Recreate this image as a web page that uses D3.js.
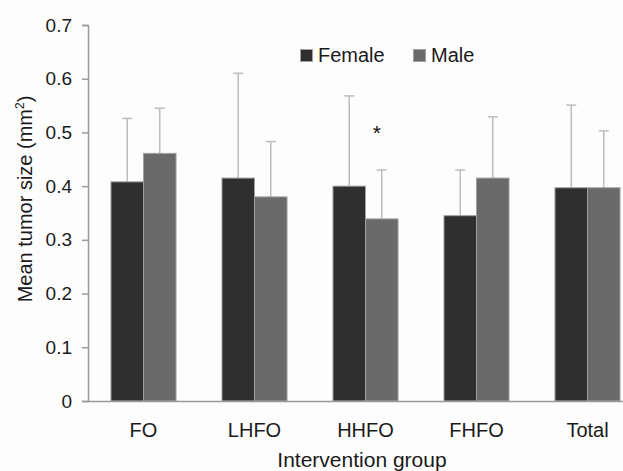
<!DOCTYPE html>
<html>
<head>
<meta charset="utf-8">
<script src="https://cdn.jsdelivr.net/npm/d3@7"></script>
<style>
    body { margin: 0; background: #fff; }
    svg { display: block; font-family: "Liberation Sans", Arial, sans-serif; }
</style>
</head>
<body>
<div id="chart"></div>
<script>
// data
const groups = ["FO", "LHFO", "HHFO", "FHFO", "Total"];
const series = ["Female", "Male"];
const femaleMean = [0.408, 0.415, 0.400, 0.345, 0.397];
const femaleUpper = [0.526, 0.610, 0.568, 0.430, 0.551];
const maleMean = [0.461, 0.380, 0.339, 0.415, 0.397];
const maleUpper = [0.545, 0.483, 0.430, 0.529, 0.503];
const yTicks = [0, 0.1, 0.2, 0.3, 0.4, 0.5, 0.6, 0.7];
const starGroup = "HHFO";

const colors = {Female: "#2f2f2f", Male: "#6a6a6a"};

let data = [];
groups.forEach((g, i) => {
    data.push({group: g, sex: "Female", mean: femaleMean[i], upper: femaleUpper[i]});
    data.push({group: g, sex: "Male", mean: maleMean[i], upper: maleUpper[i]});
});

const width = 623, height = 471;
const svg = d3.select("#chart").append("svg")
    .attr("width", width)
    .attr("height", height);

svg.append("rect").attr("width", width).attr("height", height).attr("fill", "#fdfdfd");

// axis x position and plot range (the right part is cut off in the figure)
const plot = {left: 88, right: 643, top: 25, bottom: 401};

let x0 = d3.scaleBand()
    .domain(groups)
    .range([plot.left, plot.right])
    .paddingInner(0.414)
    .paddingOuter(0.207);

let x1 = d3.scaleBand()
    .domain(series)
    .range([0, x0.bandwidth()]);

let y = d3.scaleLinear()
    .domain([0, 0.7])
    .range([plot.bottom, plot.top]);

// y axis
let yAxis = d3.axisLeft(y)
    .tickValues(yTicks)
    .tickFormat(d => d === 0 ? "0" : d3.format(".1f")(d))
    .tickSize(6)
    .tickPadding(10);

let yAxisGroup = svg.append("g")
    .attr("transform", `translate(${plot.left},0)`)
    .call(yAxis);
yAxisGroup.select(".domain").attr("stroke", "#9a9a9a").attr("stroke-width", 1.5);
yAxisGroup.selectAll(".tick line").attr("stroke", "#9a9a9a").attr("stroke-width", 1.5);
yAxisGroup.selectAll(".tick text")
    .attr("font-size", 19)
    .attr("fill", "#1a1a1a")
    .attr("font-family", "Liberation Sans, Arial, sans-serif");

// error bars (upward only), drawn behind bars
let errs = svg.append("g").attr("class", "errors");
data.forEach(d => {
    let cx = x0(d.group) + x1(d.sex) + x1.bandwidth() / 2;
    errs.append("line")
        .attr("x1", cx).attr("x2", cx)
        .attr("y1", y(d.mean)).attr("y2", y(d.upper))
        .attr("stroke", "#bdbdbd").attr("stroke-width", 1.5);
    errs.append("line")
        .attr("x1", cx - 5).attr("x2", cx + 5)
        .attr("y1", y(d.upper)).attr("y2", y(d.upper))
        .attr("stroke", "#bdbdbd").attr("stroke-width", 1.5);
});

// bars
svg.append("g").selectAll("rect")
    .data(data)
    .enter()
    .append("rect")
    .attr("x", d => x0(d.group) + x1(d.sex))
    .attr("y", d => y(d.mean))
    .attr("width", x1.bandwidth())
    .attr("height", d => plot.bottom - y(d.mean))
    .attr("fill", d => colors[d.sex])
    .attr("stroke", "#a0a0a0")
    .attr("stroke-width", 1);

// x axis line (no ticks)
let xAxis = d3.axisBottom(x0).tickSize(0).tickPadding(22);
let xAxisGroup = svg.append("g")
    .attr("transform", `translate(0,${plot.bottom})`)
    .call(xAxis);
xAxisGroup.select(".domain").attr("stroke", "#9a9a9a").attr("stroke-width", 1.5);
xAxisGroup.selectAll(".tick text")
    .attr("font-size", 20)
    .attr("fill", "#1a1a1a")
    .attr("font-family", "Liberation Sans, Arial, sans-serif");

// significance star
svg.append("text")
    .attr("x", x0(starGroup) + x1("Male") + x1.bandwidth() / 2 - 5)
    .attr("y", y(0.5) + 8)
    .attr("text-anchor", "middle")
    .attr("font-size", 21)
    .attr("fill", "#111")
    .text("*");

// axis titles
svg.append("text")
    .attr("x", 362)
    .attr("y", 467)
    .attr("text-anchor", "middle")
    .attr("font-size", 21)
    .attr("fill", "#1a1a1a")
    .text("Intervention group");

let yTitle = svg.append("text")
    .attr("transform", `translate(32,199) rotate(-90)`)
    .attr("text-anchor", "middle")
    .attr("font-size", 20)
    .attr("fill", "#1a1a1a");
yTitle.append("tspan").text("Mean tumor size (mm");
yTitle.append("tspan").attr("font-size", 12).attr("dy", -8).text("2");
yTitle.append("tspan").attr("dy", 8).text(")");

// legend
let legend = svg.append("g").attr("transform", "translate(300,49)");
series.forEach((s, i) => {
    let lg = legend.append("g").attr("transform", `translate(${i * 113},0)`);
    lg.append("rect")
        .attr("x", 0.5).attr("y", 0.5)
        .attr("width", 12).attr("height", 12)
        .attr("fill", colors[s])
        .attr("stroke", "#a0a0a0");
    lg.append("text")
        .attr("x", 18).attr("y", 13)
        .attr("font-size", 20)
        .attr("fill", "#1a1a1a")
        .text(s);
});
</script>
</body>
</html>
